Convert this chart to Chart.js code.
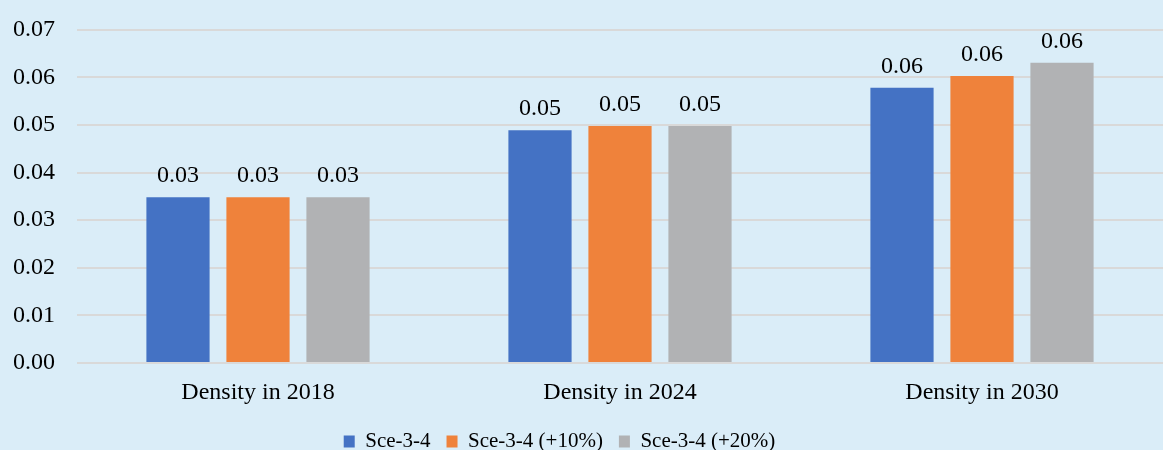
<!DOCTYPE html>
<html>
<head>
<meta charset="utf-8">
<script src="https://cdn.jsdelivr.net/npm/chart.js@4"></script>
<style>
  html, body { margin: 0; padding: 0; background: #daedf8; }
  #wrap { width: 1163px; height: 450px; }
</style>
</head>
<body>
<div id="wrap"><canvas id="densityChart"></canvas></div>
<script>
const categories = ["Density in 2018", "Density in 2024", "Density in 2030"];
const seriesNames = ["Sce-3-4", "Sce-3-4 (+10%)", "Sce-3-4 (+20%)"];
const sceBase = [0.0348, 0.0489, 0.0578];
const sce10 = [0.0348, 0.0498, 0.0603];
const sce20 = [0.0348, 0.0498, 0.0631];
const yTicks = [0, 0.01, 0.02, 0.03, 0.04, 0.05, 0.06, 0.07];

const colors = ["#4472c4", "#ef823b", "#b1b2b4"];
const fontFamily = "'Liberation Serif', 'DejaVu Serif', serif";

// draws the value above each bar, Excel style
const barLabels = {
  id: "barLabels",
  afterDatasetsDraw(chart) {
    const ctx = chart.ctx;
    ctx.save();
    ctx.font = "24px " + fontFamily;
    ctx.fillStyle = "#000";
    ctx.textAlign = "center";
    ctx.textBaseline = "alphabetic";
    chart.data.datasets.forEach((ds, i) => {
      const meta = chart.getDatasetMeta(i);
      meta.data.forEach((bar, j) => {
        ctx.fillText(Number(ds.data[j]).toFixed(2), bar.x, bar.y - 15);
      });
    });
    ctx.restore();
  },
};

// legend in the original sits a bit left of centre
const legendShift = {
  id: "legendShift",
  afterLayout(chart) {
    chart.legend.left -= 29;
    chart.legend.right -= 29;
  },
};

new Chart(document.getElementById("densityChart"), {
  type: "bar",
  data: {
    labels: categories,
    datasets: [sceBase, sce10, sce20].map((vals, i) => ({
      label: seriesNames[i],
      data: vals,
      backgroundColor: colors[i],
      categoryPercentage: 0.663,
      barPercentage: 0.79,
    })),
  },
  options: {
    responsive: true,
    maintainAspectRatio: false,
    animation: false,
    layout: { padding: { left: 14, right: 0, top: 2, bottom: -12 } },
    plugins: {
      legend: {
        position: "bottom",
        labels: {
          color: "#000",
          font: { family: fontFamily, size: 21 },
          boxWidth: 11,
          boxHeight: 12,
          padding: 16,
        },
      },
      tooltip: { enabled: false },
    },
    scales: {
      x: {
        grid: { display: false },
        border: { display: false },
        ticks: { color: "#000", font: { family: fontFamily, size: 24, lineHeight: 1 }, padding: 10 },
      },
      y: {
        min: 0,
        max: 0.07,
        afterBuildTicks: (axis) => {
          axis.ticks = yTicks.map((v) => ({ value: v }));
        },
        afterFit: (axis) => {
          axis.width = 63;
        },
        grid: { color: "#d9d9d9", lineWidth: 2, drawTicks: false },
        border: { display: false },
        ticks: {
          color: "#000",
          font: { family: fontFamily, size: 24, lineHeight: 0.65 },
          padding: 22,
          callback: (v) => Number(v).toFixed(2),
        },
      },
    },
  },
  plugins: [barLabels, legendShift],
});
</script>
</body>
</html>
